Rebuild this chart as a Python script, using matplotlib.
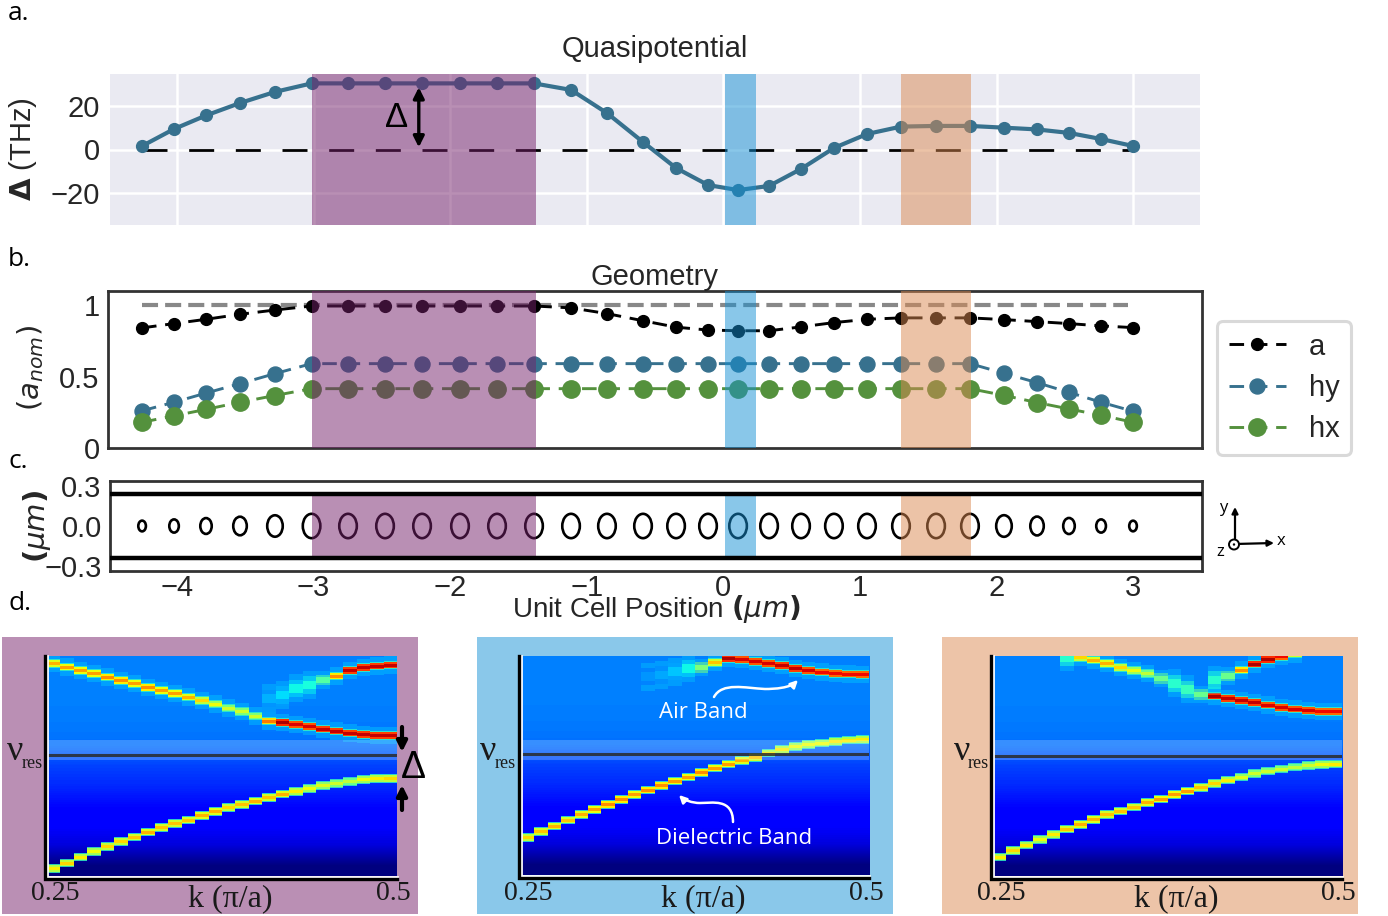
import numpy as np
import matplotlib
matplotlib.use('Agg')
import matplotlib.pyplot as plt
from matplotlib.patches import Ellipse, Rectangle, FancyArrowPatch, Circle
from matplotlib.path import Path

plt.rcParams['font.family'] = 'Liberation Sans'
W, H = 1388, 916

# ---------- data ----------
position = [-4.256,-4.022,-3.788,-3.539,-3.283,-3.015,-2.748,-2.477,-2.206,-1.928,
            -1.657,-1.386,-1.115,-0.852,-0.588,-0.346,-0.112,0.108,0.335,0.569,
            0.81,1.052,1.301,1.558,1.806,2.055,2.297,2.531,2.766,3.0]
delta = [1.6,9.4,15.6,21.3,26.4,30.3,30.3,30.3,30.3,30.3,30.3,30.3,27.3,16.7,3.4,
         -8.5,-16.3,-18.6,-16.7,-8.9,0.7,7.1,10.5,10.8,10.8,10.0,9.2,7.6,4.8,1.6]
a_vals = [0.84,0.87,0.90,0.935,0.965,0.993,0.993,0.993,0.993,0.993,0.993,0.993,0.98,0.94,
          0.89,0.845,0.825,0.82,0.82,0.847,0.877,0.90,0.91,0.91,0.91,0.898,0.884,0.87,0.854,0.842]
hy_vals = [0.26,0.32,0.384,0.45,0.52,0.59,0.59,0.59,0.59,0.59,0.59,0.59,0.59,0.59,0.59,
           0.59,0.59,0.59,0.59,0.59,0.59,0.59,0.59,0.59,0.59,0.523,0.457,0.389,0.32,0.257]
hx_vals = [0.18,0.225,0.27,0.32,0.367,0.415,0.415,0.415,0.415,0.415,0.415,0.415,0.415,0.415,0.415,
           0.415,0.415,0.415,0.415,0.415,0.415,0.415,0.415,0.415,0.415,0.368,0.318,0.273,0.229,0.18]
nominal = [1.0] * 2
nominal_x = [-4.256, 2.96]
a_nom_um = 0.31
wall_um = 0.24

purple_span = (-3.012, -1.372)
blue_span = (0.012, 0.239)
orange_span = (1.301, 1.814)
x_ticks = [-4,-3,-2,-1,0,1,2,3]

N = np.nan
# band rows, measured downwards on each map's own frequency-row scale
lower_1 = [746,729,711,694,680,665,651,636,623,610,600,587,575,563,553,543,533,522,514,505,497,490,484,479,476,475]
level_l1 = [.66,.68,.66,.64,.68,.68,.70,.72,.70,.70,.70,.72,.72,.68,.70,.72,.70,.72,.66,.64,.62,.60,.58,.64,.66,.68]
upper_1 = [130,141,151,161,171,182,191,202,212,221,231,242,252,264,275,288,303,307,313,320,327,333,339,344,347,347]
level_u1 = [.72,.74,.74,.74,.76,.76,.74,.76,.74,.74,.72,.68,.64,.60,.60,.60,.78,.96,.92,.92,.94,.94,.94,.94,.94,.94]
rise_1 = [N,N,N,N,N,N,N,N,N,N,N,N,N,N,N,N,235,225,205,195,180,168,152,143,138,135]
level_r1 = [N]*16 + [.30,.34,.37,.38,.45,.76,.94,.94,.94,.94]
lower_2 = [622,604,588,570,554,538,523,509,494,480,467,453,441,427,414,402,391,382,369,358,350,344,339,334,330,328]
level_l2 = [.68,.70,.72,.70,.72,.74,.76,.76,.74,.76,.76,.74,.74,.76,.74,.74,.72,.70,.66,.66,.64,.64,.64,.66,.66,.66]
upper_2 = [N,N,N,N,N,N,N,N,N,140,135,125,115,112,98,85,88,95,100,107,115,121,126,130,132,133]
level_u2 = [N]*9 + [.27,.29,.32,.37,.50,.70,.96,.92,.92,.92,.94,.94,.92,.90,.90,.90,.90]
lower_3 = [681,662,645,628,614,597,583,569,554,543,531,518,507,494,483,472,460,450,441,431,423,417,411,406,403,402]
level_l3 = [.66,.68,.66,.64,.66,.70,.72,.72,.70,.70,.70,.72,.74,.74,.74,.70,.68,.66,.62,.60,.60,.60,.58,.60,.64,.66]
upper_3 = [N,N,N,N,N,82,83,90,100,112,122,131,145,160,178,193,198,205,211,218,225,232,237,241,244,245]
level_u3 = [N]*5 + [.40,.68,.72,.72,.68,.64,.58,.48,.40,.42,.48,.96,.94,.94,.94,.92,.92,.92,.92,.90,.90]
rise_3 = [N]*16 + [150,138,120,102,88,80,72,N,N,N]
level_r3 = [N]*16 + [.40,.48,.76,.96,.96,.90,.70,N,N,N]
background = [.25,.25,.25,.245,.235,.19,.165,.13,.115,.08,.0]

# ---------- helpers ----------
fig = plt.figure(figsize=(W/100, H/100), dpi=100)

def px_axes(x0, y0, x1, y1, **kw):
    return fig.add_axes([x0/W, 1-y1/H, (x1-x0)/W, (y1-y0)/H], **kw)

back = px_axes(0, 0, W, H, zorder=-5)
back.set_xlim(0, W); back.set_ylim(H, 0); back.axis('off')
top = px_axes(0, 0, W, H, zorder=50)
top.set_xlim(0, W); top.set_ylim(H, 0); top.axis('off'); top.patch.set_alpha(0)

PUR, BLU, ORA = '#75206a', '#1591d5', '#db8951'
def spans(ax, y=None):
    for (s, c) in ((purple_span, PUR), (blue_span, BLU), (orange_span, ORA)):
        if y is None:
            ax.axvspan(s[0], s[1], color=c, alpha=.5, lw=0, zorder=5)
        else:
            ax.fill_between(s, -y, y, color=c, alpha=.5, lw=0, zorder=5)

DARK = '#333333'
TS = 21
# ---------- panel a ----------
axa = px_axes(110, 74, 1200, 225)
axa.set_facecolor('#eaeaf2')
for s in axa.spines.values():
    s.set_visible(False)
axa.set_xlim(-4.491, 3.49); axa.set_ylim(-34.6, 34.6)
axa.set_xticks(x_ticks); axa.set_yticks([-20, 0, 20])
axa.grid(color='white', lw=1.8, zorder=0); axa.set_axisbelow(True)
axa.tick_params(length=0, labelbottom=False, labelsize=TS, labelcolor='#262626', pad=7)
axa.plot(position, np.zeros(len(position)), color='k', lw=2, dashes=(9, 7.8), zorder=3)
axa.plot(position, delta, color='#37718e', lw=3, marker='o', ms=8.5, zorder=4)
spans(axa)
axa.set_title('Quasipotential', fontsize=TS, color='#262626', pad=12, x=0.5)
axa.set_ylabel(r'$\mathbf{\Delta}$ (THz)', fontsize=TS, color='#262626', labelpad=0)
axa.yaxis.set_label_coords((39-110)/1090, 0.5)
axa.annotate('', xy=(-2.23, 28.5), xytext=(-2.23, 1.0), zorder=8,
             arrowprops=dict(arrowstyle='<|-|>', color='k', lw=2.4, mutation_scale=16, shrinkA=0, shrinkB=0))
axa.text(-2.39, 14.5, 'Δ', fontsize=25, ha='center', va='center', color='k', zorder=8)

# ---------- panel b ----------
axb = px_axes(108, 291, 1202, 448)
axb.set_xlim(-4.505, 3.505); axb.set_ylim(0, 1.098)
axb.set_xticks([]); axb.set_yticks([0, 0.5, 1]); axb.set_yticklabels(['0', '0.5', '1'])
axb.tick_params(length=0, labelsize=TS, labelcolor='#262626', pad=6)
for s in axb.spines.values():
    s.set_color(DARK); s.set_linewidth(2)
axb.plot(nominal_x, nominal, color='#888888', lw=3, dashes=(3.85, 1.7), zorder=2)
l1, = axb.plot(position, a_vals, color='k', lw=2.1, dashes=(5, 3), marker='o', ms=8.5, label='a', zorder=3)
l2, = axb.plot(position, hy_vals, color='#37718e', lw=2.1, dashes=(5, 3), marker='o', ms=10.8, label='hy', zorder=3)
l3, = axb.plot(position, hx_vals, color='#54913d', lw=2.1, dashes=(5, 3), marker='o', ms=12.5, label='hx', zorder=3)
spans(axb)
axb.set_title('Geometry', fontsize=TS, color='#262626', pad=-1)
axb.set_ylabel(r'$(a_{nom})$', fontsize=TS, color='#262626')
axb.yaxis.set_label_coords((46-108)/1094, 0.51)
leg = fig.legend(handles=[l1, l2, l3], loc='upper left', bbox_to_anchor=(1217/W, 1-321/H),
                 borderaxespad=0, fontsize=21, frameon=True, fancybox=True, framealpha=1,
                 edgecolor='#d9d9d9', handlelength=1.95, handletextpad=0.8, labelspacing=0.45,
                 borderpad=0.4, labelcolor='#262626')
leg.get_frame().set_linewidth(2.2)

# ---------- panel c ----------
axc = px_axes(110, 481, 1202, 571)
axc.set_xlim(-4.491, 3.505); axc.set_ylim(-0.338, 0.338)
axc.set_xticks(x_ticks); axc.set_yticks([-0.3, 0.0, 0.3])
axc.tick_params(axis='y', length=0, labelsize=TS, labelcolor='#262626', pad=6)
axc.tick_params(axis='x', length=0, labelsize=TS, labelcolor='#262626', pad=2)
for s in axc.spines.values():
    s.set_color(DARK); s.set_linewidth(2)
for x, w, h in zip(position, hx_vals, hy_vals):
    axc.add_patch(Ellipse((x, 0), w*a_nom_um, h*a_nom_um, fill=False, ec='k', lw=1.9, zorder=3))
spans(axc, wall_um)
axc.axhline(wall_um, color='k', lw=3.2, zorder=6)
axc.axhline(-wall_um, color='k', lw=3.2, zorder=6)
axc.set_xlabel(r'Unit Cell Position $\mathbf{(}\mu m\mathbf{)}$', fontsize=20, color='#262626', labelpad=-6)
axc.set_ylabel(r'$\mathbf{(}\mu m\mathbf{)}$', fontsize=TS, color='#262626')
axc.yaxis.set_label_coords((53-110)/1092, 0.5)

# ---------- panel d ----------
jet = plt.get_cmap('jet')
def band(ax, vals, levels, glow=False):
    for j, (v, lv) in enumerate(zip(vals, levels)):
        if np.isnan(v):
            continue
        faint = lv < 0.58
        if faint:
            w = 42 if lv < .45 else 26
            ed = np.array([-1, -.62, -.3, .3, .62, 1]) * w + v
            c = [.34, lv*.95, lv, lv*.95, .34]
            al = [.3, .65, 1, .65, .3]
        else:
            ed = np.array([-13, -10, -4.5, 4.5, 10, 13]) + v
            mid = lv - .1
            c = [.42, mid, lv, mid, .42]
            al = [.8, 1, 1, 1, .8]
        if glow and not faint:
            ed = np.concatenate(([ed[0]-13], ed, [ed[-1]+13]))
            c = [.34] + c + [.34]
            al = [.35] + al + [.35]
        ax.pcolormesh([j, j+1], ed, np.array([c]).T, cmap=jet, vmin=0, vmax=1,
                      alpha=np.array([al]).T, shading='flat', zorder=3, lw=0)

def heat(box, rows, stripe, line, bands):
    ax = px_axes(*box)
    ax.imshow(np.array(background)[:, None], cmap=jet, vmin=0, vmax=1, aspect='auto',
              extent=(0, 26, rows[0], rows[1]), origin='upper', interpolation='bilinear', zorder=1)
    ax.set_xlim(0, 26); ax.set_ylim(rows[0], rows[1])
    for b in bands:
        band(ax, *b)
    ax.axhspan(stripe[0], stripe[1], color='white', alpha=.22, lw=0, zorder=4)
    ax.axhline(line, color='#2a2a2a', lw=2.2, alpha=.85, zorder=5)
    ax.set_xticks([]); ax.set_yticks([])
    for s in ax.spines.values():
        s.set_visible(False)
    top.plot([box[0]+.5, box[0]+.5, box[2]], [box[1], box[3]+.5, box[3]+.5], color='white', lw=2.0, solid_joinstyle='miter')
    top.plot([box[0]-1.5, box[0]-1.5, box[2]], [box[1], box[3]+2.5, box[3]+2.5], color='k', lw=2.4, solid_joinstyle='miter')
    return ax

for (x0, c) in ((2, '#ba8fb4'), (477, '#8ac8ea'), (942, '#edc4a8')):
    back.add_patch(Rectangle((x0, 637), 416, 277, fc=c, ec='none'))

heat((47, 656, 397, 876), (768, 108), (360, 420), 405,
     [(lower_1, level_l1), (upper_1, level_u1, True), (rise_1, level_r1, True)])
heat((521, 656, 869, 875), (735, 78), (330, 390), 373,
     [(lower_2, level_l2), (upper_2, level_u2, True)])
heat((993, 656, 1342, 876), (738, 78), (330, 390), 378,
     [(lower_3, level_l3), (upper_3, level_u3, True), (rise_3, level_r3, True)])

SER = 'Liberation Serif'
for tx, kx, fx, nx, rx in ((55, 230, 393, 15, 32), (528, 703, 866, 488, 505), (1001, 1176, 1338, 962, 978)):
    top.text(tx, 894, '0.25', family=SER, fontsize=20, ha='center', va='center', color='#1a1a1a')
    top.text(kx, 899, 'k (π/a)', family=SER, fontsize=23, ha='center', va='center', color='#1a1a1a')
    top.text(fx, 894, '0.5', family=SER, fontsize=20, ha='center', va='center', color='#1a1a1a')
    top.text(nx, 751, 'ν', family=SER, fontsize=26, ha='center', va='center', color='#1a1a1a')
    top.text(rx, 763, 'res', family=SER, fontsize=13, ha='center', va='center', color='#1a1a1a')

def arrow(p0, p1, color='k', lw=2.6, ms=14, style='-|>'):
    top.add_patch(FancyArrowPatch(p0, p1, arrowstyle=style, color=color, lw=lw, mutation_scale=ms,
                                  shrinkA=0, shrinkB=0, zorder=10))
arrow((402, 727), (402, 752), lw=3, ms=15)
arrow((402, 810), (402, 785), lw=3, ms=15)
top.text(413, 768, 'Δ', fontsize=27, ha='center', va='center', color='k')

def curve(pts, color='white'):
    codes = [Path.MOVETO] + [Path.CURVE4] * (len(pts) - 1)
    top.add_patch(FancyArrowPatch(path=Path(pts, codes), arrowstyle='-|>', color=color, lw=1.8,
                                  mutation_scale=11, shrinkA=0, shrinkB=0, zorder=10))
curve([(714, 697), (722, 682), (745, 688), (765, 689), (775, 689), (790, 688), (798, 680)])
curve([(733, 822), (733, 798), (712, 803), (700, 803), (692, 803), (684, 800), (679, 795)])
OS = 'Open Sans'
top.text(703, 713, 'Air Band', family=OS, fontsize=16, color='white', ha='center', va='center')
top.text(734, 839, 'Dielectric Band', family=OS, fontsize=16, color='white', ha='center', va='center')

for s, y in (('a.', 14), ('b.', 260), ('c.', 461), ('d.', 603)):
    top.text(8, y, s, family=OS, fontsize=19, ha='left', va='center', color='k')

arrow((1235, 544), (1235, 507), lw=1.6, ms=9)
arrow((1235, 544), (1274, 543), lw=1.6, ms=9)
top.add_patch(Circle((1234, 544.5), 5, fc='white', ec='k', lw=1.4, zorder=11))
top.add_patch(Circle((1234, 544.5), 1.2, fc='k', ec='k', lw=0, zorder=12))
top.text(1223, 508, 'y', family=OS, fontsize=12, ha='center', va='center')
top.text(1281, 541, 'x', family=OS, fontsize=12, ha='center', va='center')
top.text(1220, 552, 'z', family=OS, fontsize=12, ha='center', va='center')

fig.savefig('out.png', dpi=100)
